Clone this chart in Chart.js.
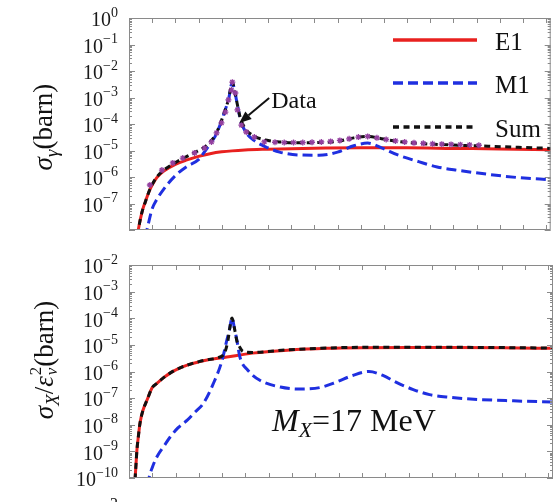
<!DOCTYPE html>
<html>
<head>
<meta charset="utf-8">
<script src="https://cdn.jsdelivr.net/npm/chart.js@4.4.1/dist/chart.umd.min.js"></script>
<style>
body { margin:0; background:#fff; width:556px; height:502px; overflow:hidden; position:relative; font-family:'Liberation Serif', serif; color:#111; }
canvas { position:absolute; left:0; }
#top { top:0; }
#bottom { top:250px; }
.ylab { position:absolute; white-space:nowrap; font-size:27px; line-height:30px; transform:translate(-50%,-50%) rotate(-90deg); }
.ylab sub { font-size:0.7em; vertical-align:-0.3em; line-height:0; }
.ss { display:inline-flex; flex-direction:column; font-size:0.62em; line-height:0.95; vertical-align:0.72em; margin-left:1px; }
#mx { position:absolute; left:272px; top:404px; font-size:32px; line-height:32px; white-space:nowrap; }
#mx sub { font-size:0.68em; vertical-align:-0.28em; line-height:0; }
#cut { position:absolute; left:110px; top:496px; font-size:16px; line-height:16px; }
</style>
</head>
<body>
<canvas id="top" width="556" height="250"></canvas>
<canvas id="bottom" width="556" height="252"></canvas>
<div class="ylab" style="left:43px; top:127px;"><i>σ</i><sub><i>γ</i></sub>(barn)</div>
<div class="ylab" style="left:44px; top:360px;"><i>σ</i><sub><i>X</i></sub>/<i>ε</i><span class="ss"><span>2</span><span><i>ν</i></span></span>(barn)</div>
<div id="mx"><i>M</i><sub><i>X</i></sub>=17 MeV</div>
<div id="cut">2</div>
<script>
// proton energy (MeV) and cross sections (barn)

// upper panel: photon emission
const gammaE1Energy = [0.036, 0.04, 0.05, 0.06, 0.07, 0.08, 0.09, 0.10, 0.12, 0.15, 0.20, 0.25, 0.30, 0.35, 0.40, 0.50, 0.60, 0.70, 0.85, 1.00, 1.20, 1.40, 1.60, 1.82];
const gammaE1 = [6.3e-9, 1.0e-8, 2.8e-8, 6.3e-8, 1.12e-7, 2.0e-7, 3.3e-7, 5.0e-7, 9.5e-7, 1.66e-6, 3.0e-6, 4.4e-6, 6.0e-6, 7.6e-6, 8.9e-6, 1.05e-5, 1.12e-5, 1.17e-5, 1.23e-5, 1.26e-5, 1.26e-5, 1.20e-5, 1.15e-5, 1.07e-5];

const gammaM1Energy = [0.07, 0.08, 0.10, 0.12, 0.15, 0.20, 0.25, 0.30, 0.33, 0.35, 0.37, 0.39, 0.41, 0.43, 0.446, 0.455, 0.465, 0.48, 0.50, 0.54, 0.60, 0.65, 0.73, 0.82, 0.90, 0.97, 1.03, 1.09, 1.16, 1.25, 1.33, 1.42, 1.55, 1.68, 1.82];
const gammaM1 = [5.0e-9, 1.26e-8, 6.3e-8, 1.41e-7, 3.5e-7, 1.12e-6, 2.5e-6, 4.5e-6, 1.0e-5, 1.78e-5, 3.2e-5, 7.9e-5, 2.5e-4, 8.9e-4, 3.8e-3, 2.0e-3, 7.1e-4, 1.58e-4, 5.6e-5, 2.4e-5, 1.26e-5, 8.7e-6, 6.8e-6, 6.6e-6, 8.7e-6, 1.51e-5, 1.9e-5, 1.26e-5, 6.8e-6, 3.8e-6, 2.4e-6, 1.78e-6, 1.26e-6, 9.5e-7, 7.9e-7];

const gammaSumEnergy = [0.036, 0.04, 0.05, 0.06, 0.07, 0.08, 0.09, 0.10, 0.12, 0.15, 0.20, 0.25, 0.30, 0.33, 0.35, 0.37, 0.39, 0.41, 0.43, 0.446, 0.455, 0.465, 0.48, 0.50, 0.54, 0.60, 0.65, 0.73, 0.82, 0.90, 0.97, 1.03, 1.09, 1.16, 1.25, 1.33, 1.42, 1.55, 1.68, 1.82];
const gammaSum = [6.3e-9, 1.0e-8, 2.8e-8, 6.3e-8, 1.12e-7, 2.0e-7, 3.4e-7, 5.2e-7, 1.0e-6, 1.82e-6, 3.5e-6, 6.0e-6, 1.0e-5, 1.41e-5, 2.1e-5, 3.5e-5, 8.3e-5, 2.5e-4, 8.9e-4, 3.8e-3, 2.0e-3, 7.1e-4, 1.78e-4, 7.1e-5, 3.5e-5, 2.4e-5, 2.1e-5, 1.95e-5, 2.0e-5, 2.2e-5, 3.0e-5, 3.4e-5, 2.8e-5, 2.2e-5, 1.86e-5, 1.7e-5, 1.58e-5, 1.45e-5, 1.32e-5, 1.2e-5];

const dataEnergy = [0.090, 0.142, 0.189, 0.232, 0.283, 0.326, 0.356, 0.378, 0.399, 0.416, 0.429, 0.442, 0.446, 0.459, 0.468, 0.485, 0.506, 0.541, 0.584, 0.63, 0.67, 0.71, 0.75, 0.79, 0.83, 0.87, 0.91, 0.95, 0.99, 1.03, 1.07, 1.11, 1.15, 1.19, 1.23, 1.27, 1.31, 1.35, 1.39, 1.43, 1.47, 1.51];
const dataSigma = [5.0e-7, 1.82e-6, 3.4e-6, 5.2e-6, 8.1e-6, 1.23e-5, 2.1e-5, 4.6e-5, 1.1e-4, 2.8e-4, 8.1e-4, 1.9e-3, 3.8e-3, 1.48e-3, 3.4e-4, 9.1e-5, 5.0e-5, 3.2e-5, 2.1e-5, 2.05e-5, 2.0e-5, 2.0e-5, 2.0e-5, 2.05e-5, 2.1e-5, 2.2e-5, 2.4e-5, 2.75e-5, 3.2e-5, 3.4e-5, 3.0e-5, 2.6e-5, 2.3e-5, 2.1e-5, 1.95e-5, 1.86e-5, 1.78e-5, 1.74e-5, 1.7e-5, 1.66e-5, 1.62e-5, 1.58e-5];

// lower panel: X17 emission
const xE1Energy = [0.026, 0.03, 0.034, 0.04, 0.047, 0.06, 0.077, 0.10, 0.12, 0.15, 0.176, 0.21, 0.25, 0.30, 0.335, 0.42, 0.53, 0.68, 0.85, 1.00, 1.20, 1.40, 1.60, 1.82];
const xE1 = [8.9e-11, 3.2e-10, 1.12e-9, 3.5e-9, 1.12e-8, 3.5e-8, 8.3e-8, 2.5e-7, 3.6e-7, 6.0e-7, 8.7e-7, 1.26e-6, 1.74e-6, 2.3e-6, 2.7e-6, 3.5e-6, 4.9e-6, 6.3e-6, 7.4e-6, 7.8e-6, 7.9e-6, 7.9e-6, 7.8e-6, 7.4e-6];

const xM1Energy = [0.08, 0.086, 0.10, 0.12, 0.15, 0.176, 0.21, 0.25, 0.28, 0.32, 0.36, 0.40, 0.42, 0.432, 0.442, 0.452, 0.463, 0.476, 0.51, 0.56, 0.65, 0.73, 0.82, 0.89, 0.96, 1.03, 1.09, 1.15, 1.22, 1.29, 1.38, 1.50, 1.65, 1.82];
const xM1 = [5.0e-11, 1.0e-10, 2.5e-10, 6.3e-10, 1.58e-9, 3.4e-9, 7.6e-9, 1.48e-8, 2.8e-8, 6.5e-8, 3.2e-7, 2.7e-6, 1.51e-5, 4.0e-5, 1.02e-4, 4.5e-5, 1.51e-5, 3.5e-6, 1.12e-6, 4.8e-7, 2.6e-7, 2.2e-7, 2.5e-7, 4.0e-7, 7.1e-7, 1.0e-6, 7.1e-7, 3.8e-7, 2.1e-7, 1.35e-7, 1.07e-7, 8.9e-8, 7.9e-8, 7.1e-8];

const xSumEnergy = [0.026, 0.03, 0.034, 0.04, 0.047, 0.06, 0.077, 0.10, 0.12, 0.15, 0.176, 0.21, 0.25, 0.30, 0.335, 0.38, 0.41, 0.425, 0.432, 0.442, 0.452, 0.463, 0.475, 0.49, 0.53, 0.68, 0.85, 1.00, 1.20, 1.40, 1.60, 1.82];
const xSum = [8.9e-11, 3.2e-10, 1.12e-9, 3.5e-9, 1.12e-8, 3.5e-8, 8.3e-8, 2.5e-7, 3.6e-7, 6.0e-7, 8.7e-7, 1.26e-6, 1.74e-6, 2.35e-6, 2.75e-6, 3.3e-6, 5.0e-6, 1.51e-5, 4.0e-5, 1.02e-4, 4.5e-5, 1.41e-5, 8.3e-6, 5.6e-6, 5.2e-6, 6.5e-6, 7.6e-6, 8.1e-6, 8.1e-6, 8.1e-6, 7.9e-6, 7.6e-6];

const seriesNames = ['E1', 'M1', 'Sum'];


const RED = '#e8211f';
const BLUE = '#1f2fe0';
const BLACK = '#111111';
const PURPLE = '#93409f';
const SERIF = '"Liberation Serif", "DejaVu Serif", serif';

const pts = (xs, ys) => xs.map((v, i) => ({x: v, y: ys[i]}));

function curves(e1x, e1, m1x, m1, sx, s) {
    return [
        { label: seriesNames[0], data: pts(e1x, e1), borderColor: RED, borderWidth: 3, order: 4 },
        { label: seriesNames[1], data: pts(m1x, m1), borderColor: BLUE, borderWidth: 3, borderDash: [10, 5], order: 3 },
        { label: seriesNames[2], data: pts(sx, s), borderColor: BLACK, borderWidth: 3, borderDash: [6, 4.5], order: 2 }
    ];
}

// frame with inward ticks on all four sides + 10^n labels
const frame = {
    id: 'frame',
    afterDatasetsDraw(chart, args, opts) {
        const {ctx, chartArea: a, scales: {x, y}} = chart;
        ctx.save();
        ctx.strokeStyle = '#8a8a8a';
        ctx.lineWidth = 1;
        ctx.strokeRect(a.left + 0.5, a.top + 0.5, a.right - a.left - 1, a.bottom - a.top - 1);
        ctx.beginPath();
        for (let i = 1; i <= 18; i++) {
            const px = Math.round(x.getPixelForValue(i / 10)) + 0.5;
            if (px >= a.right - 1) continue;
            ctx.moveTo(px, a.top); ctx.lineTo(px, a.top + 5);
            ctx.moveTo(px, a.bottom); ctx.lineTo(px, a.bottom - 5);
        }
        for (let d = opts.lo; d <= opts.hi; d++) {
            for (let k = 1; k < 10; k++) {
                const v = k * Math.pow(10, d);
                if (v > y.max * 1.0001 || v < y.min * 0.9999) continue;
                const py = Math.round(y.getPixelForValue(v)) + 0.5;
                const len = k === 1 ? 6 : 3;
                ctx.moveTo(a.left, py); ctx.lineTo(a.left + len, py);
                ctx.moveTo(a.right, py); ctx.lineTo(a.right - len, py);
            }
        }
        ctx.stroke();

        // tick labels
        ctx.fillStyle = '#1a1a1a';
        ctx.textBaseline = 'middle';
        const right = a.left - 11;
        for (let d = opts.hi; d >= opts.labelLo; d--) {
            const py = y.getPixelForValue(Math.pow(10, d));
            const exp = d === 0 ? '0' : '\u2212' + Math.abs(d);
            ctx.font = '14px ' + SERIF;
            const ew = ctx.measureText(exp).width;
            ctx.textAlign = 'left';
            ctx.fillText(exp, right - ew, py - 5);
            ctx.font = '20px ' + SERIF;
            ctx.textAlign = 'right';
            ctx.fillText('10', right - ew, py + 3);
        }
        ctx.restore();
    }
};

// legend and "Data" arrow for the upper panel
const notes = {
    id: 'notes',
    afterDatasetsDraw(chart) {
        const {ctx, scales: {x, y}} = chart;
        ctx.save();
        const rows = [40, 83, 127];
        chart.data.datasets.slice(0, 3).forEach((ds, i) => {
            ctx.strokeStyle = ds.borderColor;
            ctx.lineWidth = 3.5;
            ctx.setLineDash(ds.borderDash || []);
            ctx.beginPath();
            ctx.moveTo(393, rows[i]);
            ctx.lineTo(477, rows[i]);
            ctx.stroke();
            ctx.setLineDash([]);
            ctx.fillStyle = '#111';
            ctx.font = '25px ' + SERIF;
            ctx.textAlign = 'left';
            ctx.textBaseline = 'alphabetic';
            ctx.fillText(ds.label, 495, rows[i] + 10);
        });

        ctx.fillStyle = '#111';
        ctx.font = '24px ' + SERIF;
        ctx.fillText('Data', x.getPixelForValue(0.614), y.getPixelForValue(3.9e-4));

        const x0 = x.getPixelForValue(0.605), y0 = y.getPixelForValue(9.5e-4);
        const x1 = x.getPixelForValue(0.476), y1 = y.getPixelForValue(1.1e-4);
        const ang = Math.atan2(y1 - y0, x1 - x0);
        const hl = 12, hw = 5;
        const bx = x1 - hl * Math.cos(ang), by = y1 - hl * Math.sin(ang);
        ctx.strokeStyle = '#111';
        ctx.lineWidth = 2;
        ctx.beginPath();
        ctx.moveTo(x0, y0);
        ctx.lineTo(bx, by);
        ctx.stroke();
        ctx.beginPath();
        ctx.moveTo(x1, y1);
        ctx.lineTo(bx + hw * Math.sin(ang), by - hw * Math.cos(ang));
        ctx.lineTo(bx - hw * Math.sin(ang), by + hw * Math.cos(ang));
        ctx.closePath();
        ctx.fill();
        ctx.restore();
    }
};

function baseOptions(yMin, yMax, pad, ticks) {
    return {
        responsive: false,
        animation: false,
        layout: { padding: pad },
        elements: {
            point: { radius: 0 },
            line: { cubicInterpolationMode: 'monotone', borderCapStyle: 'butt' }
        },
        scales: {
            x: { type: 'linear', min: 0, max: 1.82, display: false },
            y: { type: 'logarithmic', min: yMin, max: yMax, display: false }
        },
        plugins: {
            legend: { display: false },
            tooltip: { enabled: false },
            frame: ticks
        }
    };
}

// UPPER PANEL
const topSets = curves(gammaE1Energy, gammaE1, gammaM1Energy, gammaM1, gammaSumEnergy, gammaSum);
topSets.push({
    label: 'Data',
    data: pts(dataEnergy, dataSigma),
    showLine: false,
    pointStyle: 'star',
    pointRadius: 3,
    borderColor: PURPLE,
    backgroundColor: PURPLE,
    pointBorderWidth: 1.3,
    order: 1
});

new Chart(document.getElementById('top'), {
    type: 'line',
    data: { datasets: topSets },
    options: baseOptions(1e-8, 1, {left: 129, top: 18, right: 3, bottom: 20}, {lo: -8, hi: 0, labelLo: -7}),
    plugins: [frame, notes]
});

// LOWER PANEL
new Chart(document.getElementById('bottom'), {
    type: 'line',
    data: { datasets: curves(xE1Energy, xE1, xM1Energy, xM1, xSumEnergy, xSum) },
    options: baseOptions(1e-10, 1e-2, {left: 129, top: 15, right: 3, bottom: 24}, {lo: -10, hi: -2, labelLo: -10}),
    plugins: [frame]
});
</script>
</body>
</html>
